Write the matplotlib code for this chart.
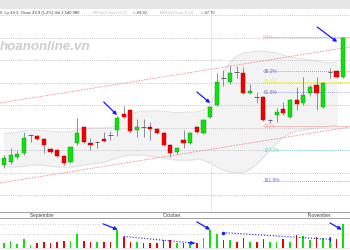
import matplotlib
matplotlib.use("Agg")
import matplotlib.pyplot as plt
from matplotlib.patches import Rectangle

# daily candles (price)
opens = [41.50, 41.70, 42.03, 42.30, 43.50, 43.43, 43.23, 42.57, 42.50, 42.10,
         41.70, 42.97, 44.03, 42.97, 43.03, 43.23, 43.50, 43.83, 44.90, 45.17,
         43.83, 44.03, 44.03, 43.90, 43.63, 42.83, 42.37, 43.17, 42.97, 44.03,
         43.63, 44.70, 45.50, 47.30, 47.03, 47.70, 47.63, 46.30, 46.03, 46.03,
         44.50, 44.83, 45.23, 44.70, 45.83, 45.63, 46.30, 46.83, 45.37, 47.70,
         47.77, 47.37]
highs = [42.17, 42.63, 42.50, 43.70, 43.55, 43.50, 43.30, 42.63, 42.57, 42.17,
         42.77, 44.63, 44.10, 43.30, 43.07, 43.70, 43.77, 44.77, 45.43, 45.23,
         44.57, 44.57, 44.37, 43.97, 43.70, 42.90, 42.70, 43.83, 43.70, 44.10,
         44.57, 45.43, 47.63, 47.83, 48.10, 48.10, 48.03, 46.90, 46.37, 46.10,
         44.55, 45.30, 45.70, 45.90, 46.70, 47.37, 46.83, 47.37, 47.03, 47.97,
         47.83, 50.03]
lows = [41.30, 41.57, 41.90, 42.17, 43.03, 43.17, 42.30, 42.30, 42.03, 41.50,
        41.63, 42.83, 42.97, 42.50, 42.63, 43.03, 43.17, 43.43, 44.63, 43.63,
        43.37, 43.37, 43.17, 43.57, 42.77, 42.03, 42.23, 42.63, 42.90, 43.63,
        43.57, 44.63, 45.43, 46.77, 46.90, 47.30, 46.23, 46.23, 45.63, 44.43,
        44.30, 44.37, 44.83, 44.63, 45.17, 45.50, 46.10, 45.17, 45.30, 47.30,
        47.30, 47.30]
closes = [41.97, 42.17, 42.23, 43.30, 43.52, 43.23, 42.83, 42.37, 42.10, 41.63,
          42.70, 43.63, 43.03, 42.83, 43.05, 43.10, 43.48, 44.63, 44.70, 43.77,
          44.03, 44.01, 43.93, 43.63, 42.83, 42.30, 42.63, 42.97, 43.63, 43.70,
          44.50, 45.37, 47.03, 47.28, 47.63, 47.68, 46.30, 46.43, 46.01, 44.50,
          44.52, 45.03, 44.97, 45.83, 45.57, 46.17, 46.70, 46.30, 46.97, 47.72,
          47.37, 49.97]
# volume in millions
volumes = [0.5, 0.7, 0.4, 0.9, 0.3, 0.5, 0.6, 0.5, 0.6, 0.7,
           0.7, 1.5, 0.7, 0.6, 0.6, 0.6, 0.6, 1.9, 1.1, 0.6,
           0.6, 0.5, 0.5, 0.5, 0.8, 0.8, 0.5, 0.5, 0.6, 0.5,
           1.0, 1.9, 1.5, 0.8, 0.8, 0.6, 1.0, 0.6, 0.6, 0.9,
           0.6, 0.6, 0.9, 0.6, 1.3, 1.2, 0.8, 1.1, 1.0, 1.1,
           0.9, 2.5]
# bollinger band edges
bb_upper = [43.63, 43.63, 43.70, 43.77, 43.83, 43.83, 43.77, 43.77, 43.70, 43.70,
            43.70, 43.83, 43.97, 43.97, 43.97, 43.97, 44.03, 44.17, 44.50, 44.90,
            45.03, 45.10, 45.10, 45.10, 45.10, 45.03, 44.97, 45.03, 45.03, 45.03,
            45.17, 45.50, 46.50, 47.70, 48.37, 48.77, 48.97, 49.03, 49.10, 49.10,
            49.03, 48.97, 48.83, 48.70, 48.63, 48.57, 48.50, 48.43, 48.37, 48.30,
            48.37]
bb_lower = [41.43, 41.37, 41.37, 41.43, 41.50, 41.50, 41.50, 41.43, 41.37, 41.37,
            41.37, 41.43, 41.50, 41.57, 41.63, 41.70, 41.83, 41.97, 42.10, 42.17,
            42.17, 42.17, 42.10, 42.03, 41.97, 41.90, 41.83, 41.83, 41.83, 41.90,
            41.83, 41.63, 41.37, 41.17, 41.03, 40.97, 41.03, 41.23, 41.57, 42.03,
            42.50, 42.97, 43.37, 43.63, 43.77, 43.83, 43.90, 43.97, 44.03, 44.10,
            44.17]

month_labels = ["September", "October", "November"]
month_pos = [3.9, 23.9, 45.7]

fib_high, fib_low = 50.03, 44.10
fib_ratios = [0.0, 0.382, 0.5, 0.618, 1.0, 1.272, 1.618]
fib_labels = ["0.0%", "38.2%", "50.0%", "61.8%", "100%", "127.2%", "161.8%"]
fib_start = 39

channel_x = [-0.6, 52.0]
channel_upper = [45.63, 49.37]
channel_lower = [40.30, 44.03]

price_arrows = [((15.0, 45.70), (17.0, 44.83)),
                ((29.0, 46.37), (31.0, 45.63)),
                ((47.1, 50.70), (50.1, 49.70))]
vol_arrows = [((14.9, 2.5), (17.1, 1.9)),
              ((29.0, 2.7), (31.0, 1.9)),
              ((49.0, 2.6), (50.8, 1.9))]
vol_trends = [((18.0, 1.2), (28.7, 0.5)), ((32.9, 1.6), (49.0, 0.9))]

GREEN = '#10e010'
RED = '#f00000'
WICK = '#7a7a90'
BLUE = '#1a1aff'

fig = plt.figure(figsize=(3.5, 2.5), dpi=100)
fig.patch.set_facecolor('white')

H = 250.0
xlim = (-0.6, 52.03)

# header strip
fig.patches.append(Rectangle((0, 1 - 9 / H), 1, 9 / H, transform=fig.transFigure,
                             facecolor='#e6e6e6', edgecolor='none', zorder=0))
ty = 1 - 13 / H
hdr = dict(fontsize=3.0, family='Liberation Sans', va='center', ha='left')
fig.text(0.0, ty, "5, Lo 49.3, Close 49.9 (1.2%) Vol 2,540,980", color='#404040', **hdr)
fig.text(93 / 350, ty, "BBTop(Close,10,2)", color='#c0c0c0', **hdr)
fig.text(133 / 350, ty, "= 49.92,", color='#404040', **hdr)
fig.text(160 / 350, ty, "BBBot(Close,10,2)", color='#c0c0c0', **hdr)
fig.text(201 / 350, ty, "= 47.75", color='#404040', **hdr)

# main price panel
ax = fig.add_axes([0, 1 - 211 / H, 1, 201 / H])
ax.set_xlim(*xlim)
ax.set_ylim(52.5 - 211 / 15, 52.5 - 10 / 15)
for s in ax.spines.values():
    s.set_visible(False)
ax.set_xticks([])
ax.set_yticks([51.5, 50.0, 48.5, 47.0, 45.5, 44.0, 42.5, 41.0, 39.5])
ax.tick_params(left=False, labelleft=False)
ax.grid(axis='y', linestyle=(0, (1, 1.5)), color='#b8b8b8', linewidth=0.6)
ax.axvline(31.1, color='#e6e6e6', linewidth=0.6, zorder=0)

ax.text(0.0, 0.81, "hoanonline.vn", transform=fig.transFigure, fontsize=9.6,
        family='Liberation Sans', fontweight='bold', style='italic',
        color='#cdcdcd', va='center', ha='left', zorder=1)

n = len(closes)
idx = list(range(n))
bidx = idx[:len(bb_upper)]
ax.fill_between(bidx, bb_lower, bb_upper, color='#f3f3f3', zorder=1)
ax.plot(bidx, bb_upper, color='#dedede', linewidth=0.6, zorder=1)
ax.plot(bidx, bb_lower, color='#dedede', linewidth=0.6, zorder=1)

ax.plot(channel_x, channel_upper, color='#f08a8a', linewidth=0.6, linestyle=(0, (2, 1.5)), zorder=2)
ax.plot(channel_x, channel_lower, color='#f08a8a', linewidth=0.6, linestyle=(0, (2, 1.5)), zorder=2)

# fibonacci levels
fib_styles = [('#f4b0b0', '-'), ('#7070d0', ':'), ('#eeee70', '-'), ('#7070d0', ':'),
              ('#f4b0b0', '-'), ('#70d4d4', ':'), ('#7070d0', ':')]
for r, lab, (c, ls) in zip(fib_ratios, fib_labels, fib_styles):
    lvl = fib_high - r * (fib_high - fib_low)
    ax.plot([fib_start, xlim[1]], [lvl, lvl], color=c, linestyle=ls, linewidth=0.55, zorder=2)
    ax.text(fib_start, lvl, lab, color=c, fontsize=3.4, family='Liberation Sans',
            va='center', ha='left', zorder=3)

# candles
for i in idx:
    o, h, l, c = opens[i], highs[i], lows[i], closes[i]
    ax.vlines(i, l, h, color=WICK, linewidth=0.6, zorder=4)
    if abs(c - o) < 0.05:
        ax.hlines(o, i - 0.35, i + 0.35, color='#606070', linewidth=0.7, zorder=5)
    else:
        up = c > o
        ax.bar(i, abs(c - o), bottom=min(o, c), width=0.62,
               color=GREEN if up else RED,
               edgecolor='#0a9a0a' if up else '#b00000', linewidth=0.3, zorder=5)

for (x0, y0), (x1, y1) in price_arrows:
    ax.annotate('', xy=(x1, y1), xytext=(x0, y0),
                arrowprops=dict(arrowstyle='-|>', color=BLUE, lw=0.9,
                                mutation_scale=5, shrinkA=0, shrinkB=0), zorder=6)

# date band
axd = fig.add_axes([0, 1 - 218 / H, 1, 6 / H])
axd.set_xlim(*xlim)
axd.set_ylim(0, 1)
axd.set_xticks([])
axd.set_yticks([])
for k, s in axd.spines.items():
    s.set_visible(k in ('top', 'bottom'))
    s.set_color('#909090')
    s.set_linewidth(0.6)
for p, lab in zip(month_pos, month_labels):
    axd.text(p, 0.45, "'" + lab, fontsize=3.4, family='Liberation Sans',
             color='#404040', va='center', ha='left')

# volume panel
axv = fig.add_axes([0, 0, 1, 31 / H])
axv.set_xlim(*xlim)
axv.set_ylim(-0.2, 3.0)
for s in axv.spines.values():
    s.set_visible(False)
axv.set_xticks([])
axv.set_yticks([1.5, 2.5])
axv.tick_params(left=False, labelleft=False)
axv.grid(axis='y', linestyle=(0, (1, 2)), color='#c0c0c0', linewidth=0.6)
vcol = [GREEN if closes[i] >= opens[i] else RED for i in idx]
axv.bar(idx, volumes, width=0.25, color=vcol, zorder=3)
axv.axhline(0, color='#e0e0e0', linewidth=0.5, zorder=1)

for (x0, y0), (x1, y1) in vol_trends:
    axv.plot([x0, x1], [y0, y1], color=BLUE, linestyle=':', linewidth=0.8, zorder=4)
axv.annotate('', xy=vol_trends[0][1], xytext=(vol_trends[0][1][0] - 1, vol_trends[0][1][1] + 0.05),
             arrowprops=dict(arrowstyle='-|>', color=BLUE, lw=0.8, mutation_scale=5,
                             shrinkA=0, shrinkB=0), zorder=5)
axv.plot(*vol_trends[1][0], 'o', color=BLUE, markersize=1.5, zorder=5)
axv.plot(*vol_trends[1][1], '|', color=BLUE, markersize=3, markeredgewidth=0.8, zorder=5)
for (x0, y0), (x1, y1) in vol_arrows:
    axv.annotate('', xy=(x1, y1), xytext=(x0, y0),
                 arrowprops=dict(arrowstyle='-|>', color=BLUE, lw=0.9,
                                 mutation_scale=5, shrinkA=0, shrinkB=0), zorder=6)

fig.savefig('out.png', dpi=100)
